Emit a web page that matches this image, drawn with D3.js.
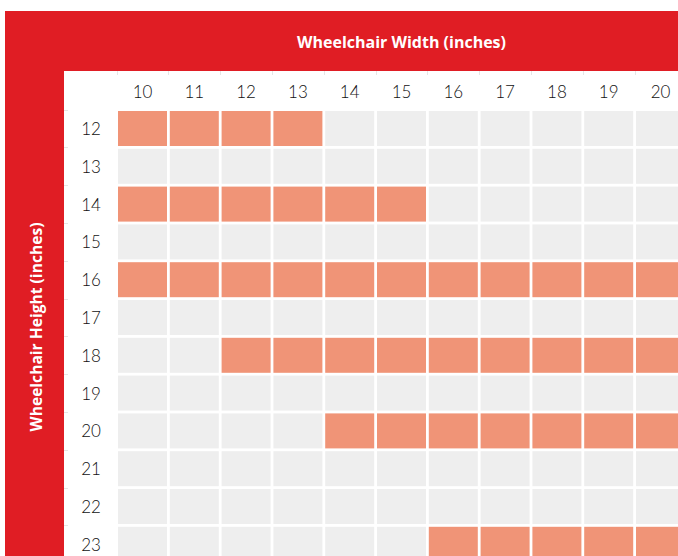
<!DOCTYPE html>
<html><head><meta charset="utf-8">
<script src="https://cdn.jsdelivr.net/npm/d3@7"></script>
<style>html,body{margin:0;padding:0;background:#fff;overflow:hidden}</style>
</head><body>
<script>
const widths = [10,11,12,13,14,15,16,17,18,19,20];
const heights = [12,13,14,15,16,17,18,19,20,21,22,23];
// highlighted width ranges per height [from, to]
const highlightHeights = [12,14,16,18,20,23];
const highlightFrom   = [10,10,10,12,14,16];
const highlightTo     = [13,15,20,20,20,20];
const xTitle = "Wheelchair Width (inches)";
const yTitle = "Wheelchair Height (inches)";

const W = 678, H = 556;
const svg = d3.select("body").append("svg").attr("width", W).attr("height", H);

const red = "#E01D24", orange = "#F09477", grey = "#EEEEEE";

svg.append("rect").attr("x",5).attr("y",11).attr("width",W-5).attr("height",H-11).attr("fill",red);
svg.append("rect").attr("x",64).attr("y",71).attr("width",W-64).attr("height",H-71).attr("fill","#fff");

const x = d3.scaleBand().domain(widths).range([116.6, 116.6+11*51.8]).paddingInner(0.054).paddingOuter(0.027);
const y = d3.scaleBand().domain(heights).range([109.6, 109.6+12*37.8]).paddingInner(0.074).paddingOuter(0.037);

const cells = [];
heights.forEach(h => widths.forEach(w => {
  const i = highlightHeights.indexOf(h);
  const on = i >= 0 && w >= highlightFrom[i] && w <= highlightTo[i];
  cells.push({h, w, on});
}));

svg.append("g").selectAll("rect").data(cells).join("rect")
  .attr("x", d => x(d.w)).attr("y", d => y(d.h))
  .attr("width", x.bandwidth()).attr("height", y.bandwidth())
  .attr("fill", d => d.on ? orange : grey);

// faint boundary ticks
const tickG = svg.append("g").attr("stroke","#e6e6e6").attr("stroke-width",1);
widths.forEach(w => {
  const bx = Math.round(x(w) - (x.step()-x.bandwidth())/2) + 0.5;
  tickG.append("line").attr("x1",bx).attr("x2",bx).attr("y1",71).attr("y2",75);
});
heights.forEach(h => {
  const by = Math.round(y(h) - (y.step()-y.bandwidth())/2) + 0.5;
  tickG.append("line").attr("x1",64).attr("x2",68).attr("y1",by).attr("y2",by);
});

const font = "Lato, 'Open Sans', sans-serif";
svg.append("g").selectAll("text").data(widths).join("text")
  .attr("x", d => x(d) + x.bandwidth()/2).attr("y", 91)
  .attr("text-anchor","middle").attr("dominant-baseline","central")
  .attr("font-family", font).attr("font-weight", 300).attr("font-size", 17).attr("fill","#111")
  .text(d => d);

svg.append("g").selectAll("text").data(heights).join("text")
  .attr("x", 91).attr("y", d => y(d) + y.bandwidth()/2)
  .attr("text-anchor","middle").attr("dominant-baseline","central")
  .attr("font-family", font).attr("font-weight", 300).attr("font-size", 17).attr("fill","#111")
  .text(d => d);

const tfont = "'Open Sans', Lato, sans-serif";
function fitTitle(sel, target) {
  let fs = 15;
  sel.attr("font-size", fs);
  const len = sel.node().getComputedTextLength();
  if (len > 0) sel.attr("font-size", fs * target / len);
}

const xt = svg.append("text").attr("x", 401.5).attr("y", 42)
  .attr("text-anchor","middle").attr("dominant-baseline","central")
  .attr("font-family", tfont).attr("font-weight","bold").attr("fill","#fff")
  .text(xTitle);
fitTitle(xt, 209);

const yt = svg.append("text").attr("transform","translate(36,327) rotate(-90)")
  .attr("text-anchor","middle").attr("dominant-baseline","central")
  .attr("font-family", tfont).attr("font-weight","bold").attr("fill","#fff")
  .text(yTitle);
fitTitle(yt, 209);
</script>
</body></html>
